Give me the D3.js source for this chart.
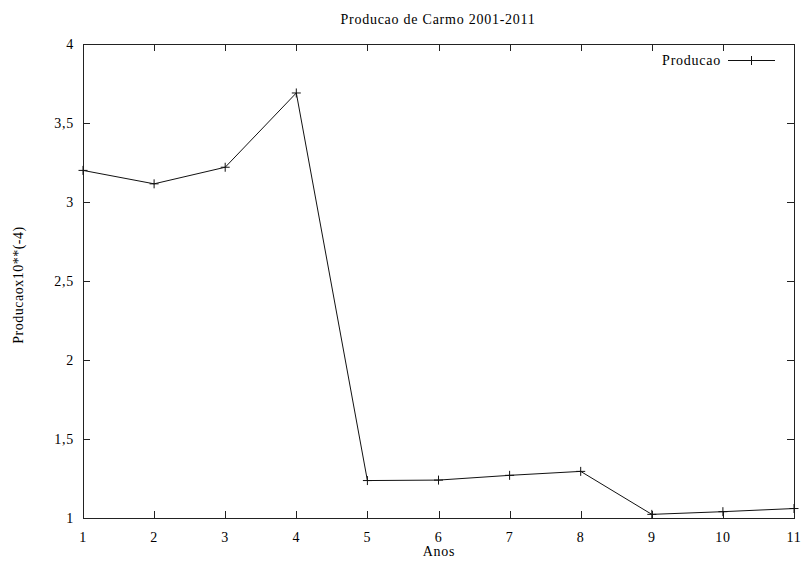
<!DOCTYPE html>
<html>
<head>
<meta charset="utf-8">
<script src="https://d3js.org/d3.v7.min.js"></script>
<style>
  body { margin: 0; background: #fff; }
  svg { display: block; font-family: "Liberation Serif", "DejaVu Serif", serif; }
  svg text { letter-spacing: 0.75px; }
  svg text.ylabel { letter-spacing: 0.5px; }
</style>
</head>
<body>
<svg id="chart" width="803" height="563"></svg>
<script>
// Annual production, Carmo 2001-2011 (x10^-4)
const anos = [1, 2, 3, 4, 5, 6, 7, 8, 9, 10, 11];
const producao = [3.20, 3.115, 3.22, 3.69, 1.237, 1.24, 1.27, 1.295, 1.023, 1.04, 1.06];
const yTicks = [1, 1.5, 2, 2.5, 3, 3.5, 4];
const yTickLabels = ["1", "1,5", "2", "2,5", "3", "3,5", "4"];
const xTicks = [1, 2, 3, 4, 5, 6, 7, 8, 9, 10, 11];

const svg = d3.select("#chart");
const plotLeft = 83, plotRight = 794, plotTop = 44, plotBottom = 518;

const x = d3.scaleLinear().domain([1, 11]).range([plotLeft, plotRight]);
const y = d3.scaleLinear().domain([1, 4]).range([plotBottom, plotTop]);

const axisColor = "#222";
const tickLen = 7;

// Border box
svg.append("rect")
  .attr("x", plotLeft + 0.5).attr("y", plotTop + 0.5)
  .attr("width", plotRight - plotLeft).attr("height", plotBottom - plotTop)
  .attr("fill", "none").attr("stroke", axisColor).attr("stroke-width", 1);

// X ticks (bottom and top, inward)
const gx = svg.append("g");
xTicks.forEach(t => {
  const px = Math.round(x(t)) + 0.5;
  gx.append("line").attr("x1", px).attr("x2", px)
    .attr("y1", plotBottom).attr("y2", plotBottom - tickLen)
    .attr("stroke", axisColor);
  gx.append("line").attr("x1", px).attr("x2", px)
    .attr("y1", plotTop).attr("y2", plotTop + tickLen)
    .attr("stroke", axisColor);
  gx.append("text").attr("x", x(t)).attr("y", 542)
    .attr("text-anchor", "middle").attr("font-size", 14).attr("fill", "#000")
    .text(t);
});

// Y ticks (left and right, inward)
const gy = svg.append("g");
yTicks.forEach((t, i) => {
  const py = Math.round(y(t)) + 0.5;
  gy.append("line").attr("x1", plotLeft).attr("x2", plotLeft + tickLen)
    .attr("y1", py).attr("y2", py).attr("stroke", axisColor);
  gy.append("line").attr("x1", plotRight).attr("x2", plotRight - tickLen)
    .attr("y1", py).attr("y2", py).attr("stroke", axisColor);
  gy.append("text").attr("x", 74).attr("y", y(t) + 5)
    .attr("text-anchor", "end").attr("font-size", 14).attr("fill", "#000")
    .text(yTickLabels[i]);
});

// Data line
const line = d3.line().x((d, i) => x(anos[i])).y(d => y(d));
svg.append("path").datum(producao)
  .attr("d", line).attr("fill", "none")
  .attr("stroke", "#111").attr("stroke-width", 1);

// Plus markers
const m = 4.5;
svg.append("g").selectAll("path").data(producao).join("path")
  .attr("d", (d, i) => {
    const cx = x(anos[i]), cy = y(d);
    return `M${cx - m},${cy}H${cx + m}M${cx},${cy - m}V${cy + m}`;
  })
  .attr("stroke", "#111").attr("stroke-width", 1).attr("fill", "none");

// Title
svg.append("text").attr("x", 438).attr("y", 24)
  .attr("text-anchor", "middle").attr("font-size", 14).attr("fill", "#000")
  .text("Producao de Carmo 2001-2011");

// Axis labels
svg.append("text").attr("x", 439).attr("y", 556)
  .attr("text-anchor", "middle").attr("font-size", 14).attr("fill", "#000")
  .text("Anos");
svg.append("text").attr("class", "ylabel")
  .attr("transform", "translate(23,285) rotate(-90)")
  .attr("text-anchor", "middle").attr("font-size", 14).attr("fill", "#000")
  .text("Producaox10**(-4)");

// Legend
svg.append("text").attr("x", 721).attr("y", 65)
  .attr("text-anchor", "end").attr("font-size", 14).attr("fill", "#000")
  .text("Producao");
svg.append("line").attr("x1", 728).attr("x2", 775)
  .attr("y1", 60.5).attr("y2", 60.5).attr("stroke", "#111");
svg.append("path")
  .attr("d", `M${751.5 - m},60.5H${751.5 + m}M751.5,${60.5 - m}V${60.5 + m}`)
  .attr("stroke", "#111");
</script>
</body>
</html>
